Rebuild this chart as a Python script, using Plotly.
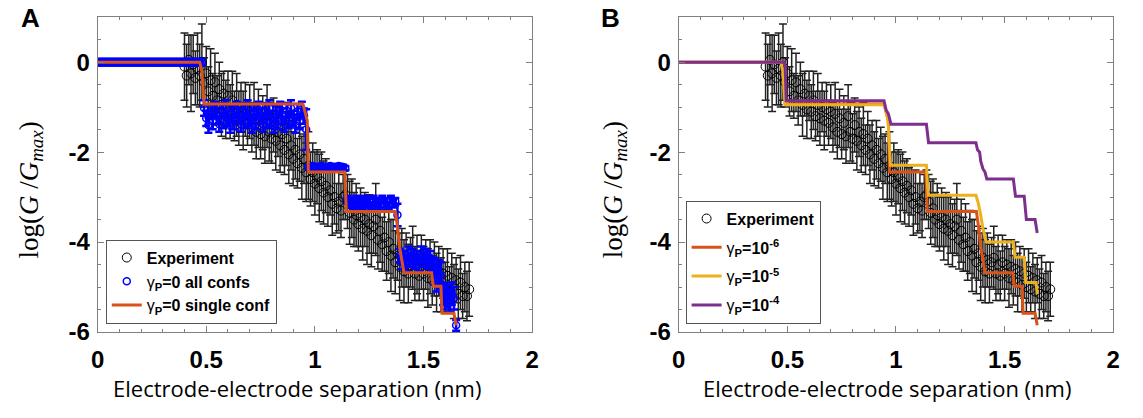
import plotly.graph_objects as go

# ---------------- data ----------------
exp_x = [0.40, 0.41, 0.42, 0.43, 0.44, 0.45, 0.46, 0.47, 0.48, 0.49,
         0.50, 0.51, 0.52, 0.53, 0.54, 0.55, 0.56, 0.57, 0.58, 0.59,
         0.60, 0.61, 0.62, 0.63, 0.64, 0.65, 0.66, 0.67, 0.68, 0.69,
         0.70, 0.71, 0.72, 0.73, 0.74, 0.75, 0.76, 0.77, 0.78, 0.79,
         0.80, 0.81, 0.82, 0.83, 0.84, 0.85, 0.86, 0.87, 0.88, 0.89,
         0.90, 0.91, 0.92, 0.93, 0.94, 0.95, 0.96, 0.97, 0.98, 0.99,
         1.00, 1.01, 1.02, 1.03, 1.04, 1.05, 1.06, 1.07, 1.08, 1.09,
         1.10, 1.11, 1.12, 1.13, 1.14, 1.15, 1.16, 1.17, 1.18, 1.19,
         1.20, 1.21, 1.22, 1.23, 1.24, 1.25, 1.26, 1.27, 1.28, 1.29,
         1.30, 1.31, 1.32, 1.33, 1.34, 1.35, 1.36, 1.37, 1.38, 1.39,
         1.40, 1.41, 1.42, 1.43, 1.44, 1.45, 1.46, 1.47, 1.48, 1.49,
         1.50, 1.51, 1.52, 1.53, 1.54, 1.55, 1.56, 1.57, 1.58, 1.59,
         1.60, 1.61, 1.62, 1.63, 1.64, 1.65, 1.66, 1.67, 1.68, 1.69,
         1.70, 1.71]
exp_y = [-0.10, -0.30, 0.05, -0.25, -0.05, -0.35, -0.15, -0.30, 0.00, -0.45,
         -0.25, -0.65, -0.40, -0.75, -0.45, -0.85, -0.60, -0.95, -0.70, -1.05,
         -0.75, -1.10, -0.85, -1.20, -0.95, -1.25, -1.00, -1.30, -1.05, -1.35,
         -1.10, -1.45, -1.15, -1.55, -1.25, -1.60, -1.35, -1.65, -1.20, -1.55,
         -1.70, -1.40, -1.75, -1.55, -1.85, -1.60, -1.95, -1.70, -2.05, -1.85,
         -2.15, -1.95, -2.25, -2.05, -2.35, -2.15, -2.45, -2.30, -2.60, -2.45,
         -2.70, -2.55, -2.80, -2.65, -2.90, -2.75, -3.00, -2.85, -3.15, -3.00,
         -3.25, -3.10, -3.30, -3.00, -2.95, -3.10, -3.35, -3.25, -3.50, -3.40,
         -3.60, -3.45, -3.70, -3.50, -3.75, -3.60, -3.85, -3.65, -3.50, -3.95,
         -3.75, -4.05, -3.90, -4.20, -4.00, -4.30, -4.15, -4.45, -4.25, -4.55,
         -4.35, -4.65, -4.40, -4.70, -4.45, -4.35, -4.70, -4.50, -4.75, -4.45,
         -4.70, -4.50, -4.80, -4.55, -4.85, -4.60, -4.90, -4.65, -4.95, -4.70,
         -5.00, -4.75, -5.05, -4.80, -5.10, -4.85, -5.15, -4.90, -5.20, -5.00,
         -5.20, -5.05]
exp_err = [0.75, 0.70, 0.55, 0.85, 0.65, 0.60, 0.80, 0.70, 0.85, 0.55,
           0.60, 0.55, 0.70, 0.50, 0.65, 0.55, 0.60, 0.70, 0.50, 0.65,
           0.55, 0.60, 0.65, 0.55, 0.70, 0.60, 0.55, 0.65, 0.60, 0.50,
           0.60, 0.55, 0.70, 0.60, 0.65, 0.55, 0.60, 0.60, 0.70, 0.65,
           0.55, 0.60, 0.65, 0.55, 0.60, 0.70, 0.55, 0.60, 0.65, 0.55,
           0.60, 0.65, 0.55, 0.60, 0.70, 0.55, 0.65, 0.75, 0.60, 0.65,
           0.70, 0.60, 0.75, 0.65, 0.70, 0.60, 0.65, 0.55, 0.70, 0.60,
           0.55, 0.65, 0.60, 0.50, 0.55, 0.60, 0.70, 0.65, 0.60, 0.70,
           0.60, 0.65, 0.70, 0.60, 0.75, 0.65, 0.70, 0.60, 0.80, 0.65,
           0.70, 0.60, 0.75, 0.65, 0.70, 0.80, 0.65, 0.70, 0.60, 0.75,
           0.65, 0.70, 0.60, 0.65, 0.55, 0.70, 0.60, 0.65, 0.55, 0.60,
           0.60, 0.55, 0.65, 0.60, 0.55, 0.60, 0.65, 0.55, 0.60, 0.55,
           0.55, 0.60, 0.50, 0.55, 0.60, 0.50, 0.55, 0.60, 0.50, 0.55,
           0.55, 0.60]

blue_x = [0.00, 0.01, 0.02, 0.03, 0.04, 0.05, 0.06, 0.07, 0.08, 0.09,
          0.10, 0.11, 0.12, 0.13, 0.14, 0.15, 0.16, 0.17, 0.18, 0.19,
          0.20, 0.21, 0.22, 0.23, 0.24, 0.25, 0.26, 0.27, 0.28, 0.29,
          0.30, 0.31, 0.32, 0.33, 0.34, 0.35, 0.36, 0.37, 0.38, 0.39,
          0.40, 0.41, 0.42, 0.43, 0.44, 0.45, 0.46, 0.47, 0.48,
          0.49, 0.50, 0.51, 0.52, 0.53, 0.54, 0.55, 0.56, 0.57, 0.58,
          0.59, 0.60, 0.61, 0.62, 0.63, 0.64, 0.65, 0.66, 0.67, 0.68,
          0.69, 0.70, 0.71, 0.72, 0.73, 0.74, 0.75, 0.76, 0.77, 0.78,
          0.79, 0.80, 0.81, 0.82, 0.83, 0.84, 0.85, 0.86, 0.87, 0.88,
          0.89, 0.90, 0.91, 0.92, 0.93, 0.94, 0.95,
          0.96,
          0.97, 0.98, 0.99, 1.00, 1.01, 1.02, 1.03, 1.04, 1.05, 1.06,
          1.07, 1.08, 1.09, 1.10, 1.11, 1.12, 1.13, 1.14,
          1.15, 1.16, 1.17, 1.18, 1.19, 1.20, 1.21, 1.22, 1.23, 1.24,
          1.25, 1.26, 1.27, 1.28, 1.29, 1.30, 1.31, 1.32, 1.33, 1.34,
          1.35, 1.36, 1.37,
          1.38,
          1.39, 1.40, 1.41, 1.42, 1.43, 1.44, 1.45, 1.46, 1.47, 1.48,
          1.49, 1.50, 1.51, 1.52, 1.53, 1.54,
          1.55, 1.56, 1.57, 1.58,
          1.59, 1.60, 1.61, 1.62, 1.63, 1.64,
          1.65]
blue_y = [0.00, 0.00, 0.00, 0.00, 0.00, 0.00, 0.00, 0.00, 0.00, 0.00,
          0.00, 0.00, 0.00, 0.00, 0.00, 0.00, 0.00, 0.00, 0.00, 0.00,
          0.00, 0.00, 0.00, 0.00, 0.00, 0.00, 0.00, 0.00, 0.00, 0.00,
          0.00, 0.00, 0.00, 0.00, 0.00, 0.00, 0.00, 0.00, 0.00, 0.00,
          0.00, 0.00, 0.00, 0.00, 0.00, 0.00, 0.00, 0.00, 0.00,
          -1.02, -1.25, -1.40, -1.10, -1.32, -1.05, -1.20, -1.38, -1.08, -1.30,
          -1.02, -1.25, -1.40, -1.15, -1.32, -1.05, -1.20, -1.38, -1.08, -1.30,
          -1.02, -1.25, -1.40, -1.10, -1.32, -1.05, -1.20, -1.38, -1.08, -1.30,
          -1.02, -1.25, -1.40, -1.15, -1.32, -1.05, -1.20, -1.38, -1.08, -1.30,
          -1.02, -1.25, -1.40, -1.10, -1.32, -1.05, -1.20,
          -1.50,
          -2.33, -2.36, -2.31, -2.35, -2.33, -2.36, -2.31, -2.35, -2.33, -2.36,
          -2.31, -2.35, -2.33, -2.36, -2.31, -2.35, -2.33, -2.36,
          -3.05, -3.15, -3.10, -3.20, -3.05, -3.15, -3.10, -3.20, -3.05, -3.15,
          -3.10, -3.20, -3.05, -3.15, -3.10, -3.20, -3.05, -3.15, -3.10, -3.20,
          -3.05, -3.15, -3.10,
          -3.40,
          -4.30, -4.45, -4.35, -4.50, -4.25, -4.40, -4.30, -4.45, -4.35, -4.50,
          -4.25, -4.40, -4.30, -4.45, -4.35, -4.50,
          -4.65, -4.80, -4.70, -4.75,
          -5.15, -5.25, -5.20, -5.30, -5.15, -5.25,
          -5.85]
blue_err = [0.07, 0.07, 0.07, 0.07, 0.07, 0.07, 0.07, 0.07, 0.07, 0.07,
            0.07, 0.07, 0.07, 0.07, 0.07, 0.07, 0.07, 0.07, 0.07, 0.07,
            0.07, 0.07, 0.07, 0.07, 0.07, 0.07, 0.07, 0.07, 0.07, 0.07,
            0.07, 0.07, 0.07, 0.07, 0.07, 0.07, 0.07, 0.07, 0.07, 0.07,
            0.07, 0.07, 0.07, 0.07, 0.07, 0.07, 0.07, 0.07, 0.07,
            0.17, 0.17, 0.17, 0.17, 0.17, 0.17, 0.17, 0.17, 0.17, 0.17,
            0.17, 0.17, 0.17, 0.17, 0.17, 0.17, 0.17, 0.17, 0.17, 0.17,
            0.17, 0.17, 0.17, 0.17, 0.17, 0.17, 0.17, 0.17, 0.17, 0.17,
            0.17, 0.17, 0.17, 0.17, 0.17, 0.17, 0.17, 0.17, 0.17, 0.17,
            0.17, 0.17, 0.17, 0.17, 0.17, 0.17, 0.17,
            0.45,
            0.05, 0.05, 0.05, 0.05, 0.05, 0.05, 0.05, 0.05, 0.05, 0.05,
            0.05, 0.05, 0.05, 0.05, 0.05, 0.05, 0.05, 0.05,
            0.08, 0.08, 0.08, 0.08, 0.08, 0.08, 0.08, 0.08, 0.08, 0.08,
            0.08, 0.08, 0.08, 0.08, 0.08, 0.08, 0.08, 0.08, 0.08, 0.08,
            0.08, 0.08, 0.08,
            0.25,
            0.15, 0.15, 0.15, 0.15, 0.15, 0.15, 0.15, 0.15, 0.15, 0.15,
            0.15, 0.15, 0.15, 0.15, 0.15, 0.15,
            0.30, 0.30, 0.30, 0.30,
            0.25, 0.25, 0.25, 0.25, 0.25, 0.25,
            0.12]

# single configuration / gamma_P = 1e-6 (same curve)
single_x = [0, 0.47, 0.48, 0.49, 0.945, 0.955, 0.965, 0.97, 1.137, 1.145,
            1.37, 1.38, 1.39, 1.41, 1.537, 1.545, 1.58, 1.585, 1.64, 1.65]
single_y = [0, 0, -0.2, -0.93, -0.93, -1.1, -1.3, -2.44, -2.44, -3.32,
            -3.32, -3.66, -4.12, -4.68, -4.68, -4.98, -4.98, -5.58, -5.58, -5.85]

g5_x = [0, 0.47, 0.48, 0.49, 0.943, 0.953, 0.963, 0.975, 1.14, 1.148,
        1.368, 1.378, 1.39, 1.40, 1.415, 1.54, 1.548, 1.59, 1.597, 1.645, 1.65]
g5_y = [0, 0, -0.2, -0.95, -0.95, -1.07, -1.3, -2.29, -2.29, -2.96,
        -2.96, -3.12, -3.4, -3.7, -4.0, -4.0, -4.34, -4.34, -4.9, -4.9, -5.16]

g4_x = [0, 0.485, 0.49, 0.495, 0.945, 0.955, 0.965, 0.977, 1.14, 1.15,
        1.368, 1.375, 1.385, 1.39, 1.40, 1.41, 1.418, 1.54, 1.55, 1.59,
        1.60, 1.64, 1.65]
g4_y = [0, 0, -0.1, -0.86, -0.86, -1.07, -1.15, -1.38, -1.38, -1.79,
        -1.79, -1.95, -2.0, -2.2, -2.37, -2.45, -2.6, -2.6, -2.98, -2.98,
        -3.5, -3.5, -3.8]

x_ticks = [0, 0.5, 1, 1.5, 2]
x_ticktext = ["0", "0.5", "1", "1.5", "2"]
y_ticks = [-6, -4, -2, 0]
y_ticktext = ["-6", "-4", "-2", "0"]

ORANGE = "#D95319"
YELLOW = "#EDB120"
PURPLE = "#7E2F8E"
BLUE = "#0000FF"

W, H = 1143, 418
A_L, A_R = 91.7, 531.7
B_L, B_R = 680.0, 1120.0
P_T, P_B = 17.7, 342.7

fig = go.Figure()

exp_marker = dict(symbol="circle-open", size=9, color="black", line=dict(width=1, color="black"))
exp_errbar = dict(type="data", array=exp_err, color="#222222", thickness=1.5, width=4)

fig.add_trace(go.Scatter(x=exp_x, y=exp_y, mode="markers", marker=exp_marker,
                         error_y=exp_errbar, name="<b>Experiment</b>",
                         xaxis="x", yaxis="y", legend="legend"))
fig.add_trace(go.Scatter(x=blue_x, y=blue_y, mode="markers",
                         marker=dict(symbol="circle-open", size=7, color=BLUE, line=dict(width=1.5, color=BLUE)),
                         error_y=dict(type="data", array=blue_err, color=BLUE, thickness=2.5, width=4),
                         name="γ<sub><b>P</b></sub><b>=0 all confs</b>",
                         xaxis="x", yaxis="y", legend="legend"))
fig.add_trace(go.Scatter(x=single_x, y=single_y, mode="lines",
                         line=dict(color=ORANGE, width=3),
                         name="γ<sub><b>P</b></sub><b>=0 single conf</b>",
                         xaxis="x", yaxis="y", legend="legend"))

fig.add_trace(go.Scatter(x=exp_x, y=exp_y, mode="markers", marker=exp_marker,
                         error_y=exp_errbar, name="<b>Experiment</b>", legendgroup="b1",
                         xaxis="x2", yaxis="y2", legend="legend2"))
fig.add_trace(go.Scatter(x=single_x, y=single_y, mode="lines",
                         line=dict(color=ORANGE, width=3), legendgroup="b2",
                         name="γ<sub><b>P</b></sub><b>=10<sup>-6</sup></b>",
                         xaxis="x2", yaxis="y2", legend="legend2"))
fig.add_trace(go.Scatter(x=g5_x, y=g5_y, mode="lines",
                         line=dict(color=YELLOW, width=3), legendgroup="b3",
                         name="γ<sub><b>P</b></sub><b>=10<sup>-5</sup></b>",
                         xaxis="x2", yaxis="y2", legend="legend2"))
fig.add_trace(go.Scatter(x=g4_x, y=g4_y, mode="lines",
                         line=dict(color=PURPLE, width=3), legendgroup="b4",
                         name="γ<sub><b>P</b></sub><b>=10<sup>-4</sup></b>",
                         xaxis="x2", yaxis="y2", legend="legend2"))

AXC = "#808080"
tickfont = dict(family="Liberation Sans, Arial", size=24, color="black", weight="bold")
common = dict(showline=True, linecolor=AXC, linewidth=1, mirror="allticks",
              ticks="inside", ticklen=6, tickwidth=1, tickcolor=AXC,
              showgrid=False, zeroline=False, tickfont=tickfont)

ydom = [1 - P_B / H, 1 - P_T / H]

def xaxis(dom):
    return dict(common, domain=dom, range=[0, 2], tickmode="array",
                tickvals=x_ticks, ticktext=x_ticktext, ticklabelstandoff=6,
                minor=dict(ticks="inside", ticklen=3, tickcolor=AXC, dtick=0.1, tick0=0, showgrid=False))

def yaxis(anchor):
    return dict(common, domain=ydom, range=[-6, 1], tickmode="array",
                tickvals=y_ticks, ticktext=y_ticktext, anchor=anchor, ticklabelstandoff=2,
                minor=dict(ticks="inside", ticklen=3, tickcolor=AXC, dtick=0.5, tick0=0, showgrid=False))

legfont = dict(family="Liberation Sans, Arial", size=16, color="black")

fig.update_layout(
    width=W, height=H, autosize=False,
    margin=dict(l=0, r=0, t=0, b=0),
    paper_bgcolor="white", plot_bgcolor="white",
    showlegend=True,
    xaxis=xaxis([A_L / W, A_R / W]) | dict(anchor="y"),
    yaxis=yaxis("x"),
    xaxis2=xaxis([B_L / W, B_R / W]) | dict(anchor="y2"),
    yaxis2=yaxis("x2"),
    legend=dict(x=100 / W, y=1 - 334 / H, xanchor="left", yanchor="bottom",
                bordercolor="#555555", borderwidth=1, bgcolor="white",
                font=legfont, itemwidth=30, tracegroupgap=0),
    legend2=dict(x=687 / W, y=1 - 334 / H, xanchor="left", yanchor="bottom",
                 bordercolor="#555555", borderwidth=1, bgcolor="white",
                 font=legfont, itemwidth=30, tracegroupgap=5),
)

ytitle = "log(<i>G</i> /<i>G</i><sub><i>max</i></sub>)"
xtitle = "Electrode-electrode separation (nm)"
annots = [
    dict(text="<b>A</b>", x=24 / W, y=1 - 19 / H, font=dict(family="Liberation Sans, Arial", size=26, color="black")),
    dict(text="<b>B</b>", x=611 / W, y=1 - 19 / H, font=dict(family="Liberation Sans, Arial", size=26, color="black")),
    dict(text=ytitle, x=24 / W, y=1 - 196 / H, textangle=-90,
         font=dict(family="Liberation Serif, DejaVu Serif", size=27, color="black")),
    dict(text=ytitle, x=615 / W, y=1 - 196 / H, textangle=-90,
         font=dict(family="Liberation Serif, DejaVu Serif", size=27, color="black")),
    dict(text=xtitle, x=294 / W, y=1 - 400 / H,
         font=dict(family="Open Sans", size=22, color="black")),
    dict(text=xtitle, x=891 / W, y=1 - 400 / H,
         font=dict(family="Open Sans", size=22, color="black")),
]
for a in annots:
    a.update(xref="paper", yref="paper", showarrow=False, xanchor="center", yanchor="middle")
fig.update_layout(annotations=annots)

fig.write_html("out.html")
